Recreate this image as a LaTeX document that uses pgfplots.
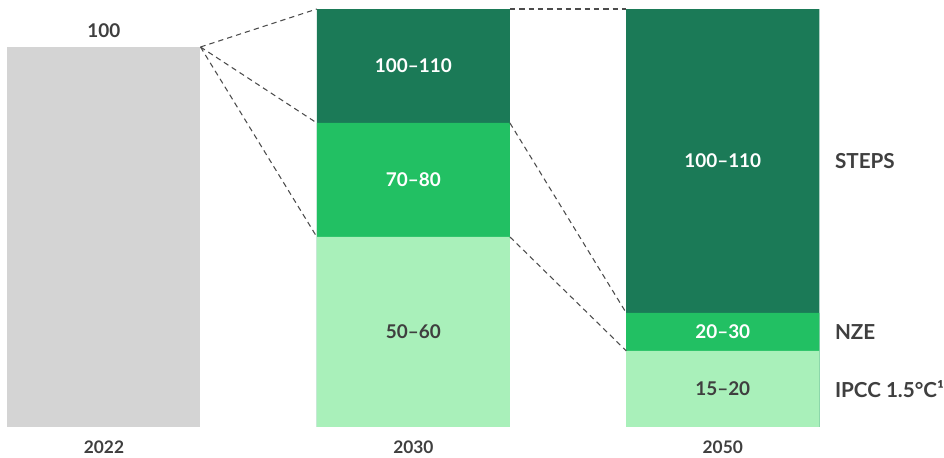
\documentclass[border=0pt]{standalone}
\usepackage{fontspec}
\setmainfont{Lato}
\usepackage{pgfplots}
\pgfplotsset{compat=1.18}
\definecolor{dkg}{HTML}{1B7A57}
\definecolor{mdg}{HTML}{22C063}
\definecolor{ltg}{HTML}{A9F0BA}
\definecolor{gry}{HTML}{D4D4D4}
\definecolor{txt}{HTML}{3F3F3F}
\begin{document}
\begin{tikzpicture}
\begin{axis}[
  width=708pt, height=343.5pt, scale only axis,
  xmin=-0.336, xmax=2.714, ymin=-8.16, ymax=112.37,
  hide axis, clip=false,
  ybar, bar width=0.624, bar shift=0pt,
  font=\bfseries\fontsize{14.2}{16}\selectfont,
]
% cumulative tops of each segment, drawn tallest first
\addplot[fill=gry, draw=none] coordinates {(0,100)};
\addplot[fill=dkg, draw=none] coordinates {(1,110) (2,110)};
\addplot[fill=mdg, draw=none] coordinates {(1,80) (2,30)};
\addplot[fill=ltg, draw=none] coordinates {(1,50) (2,20)};
\path (rel axis cs:0,0) rectangle (rel axis cs:1,1);
\draw[black!70, dash pattern=on 4pt off 3pt, line width=0.8pt] (axis cs:0.312,100) -- (axis cs:0.688,110);
\draw[black!70, dash pattern=on 4pt off 3pt, line width=0.8pt] (axis cs:0.312,100) -- (axis cs:0.688,80);
\draw[black!70, dash pattern=on 4pt off 3pt, line width=0.8pt] (axis cs:0.312,100) -- (axis cs:0.688,50);
\draw[black!70, dash pattern=on 4pt off 3pt, line width=0.8pt] (axis cs:1.312,110) -- (axis cs:1.688,110);
\draw[black!70, dash pattern=on 4pt off 3pt, line width=0.8pt] (axis cs:1.312,80) -- (axis cs:1.688,30);
\draw[black!70, dash pattern=on 4pt off 3pt, line width=0.8pt] (axis cs:1.312,50) -- (axis cs:1.688,20);
\node[txt, anchor=south] at (axis cs:0,101.2) {100};
\node[txt] at (axis cs:1,25) {50–60};
\node[white] at (axis cs:1,65) {70–80};
\node[white] at (axis cs:1,95) {100–110};
\node[txt] at (axis cs:2,10) {15–20};
\node[white] at (axis cs:2,25) {20–30};
\node[white] at (axis cs:2,70) {100–110};
\node[txt, anchor=west, inner sep=0pt, font=\bfseries\fontsize{15.5}{17}\selectfont] at (axis cs:2.362,70) {STEPS};
\node[txt, anchor=west, inner sep=0pt, font=\bfseries\fontsize{15.5}{17}\selectfont] at (axis cs:2.362,25) {NZE};
\node[txt, anchor=west, inner sep=0pt, font=\bfseries\fontsize{15.5}{17}\selectfont] at (axis cs:2.362,10) {IPCC 1.5°C¹};
\node[txt, font=\bfseries\fontsize{13}{15}\selectfont] at (axis cs:0,-5.3) {2022};
\node[txt, font=\bfseries\fontsize{13}{15}\selectfont] at (axis cs:1,-5.3) {2030};
\node[txt, font=\bfseries\fontsize{13}{15}\selectfont] at (axis cs:2,-5.3) {2050};
\end{axis}
\end{tikzpicture}
\end{document}
